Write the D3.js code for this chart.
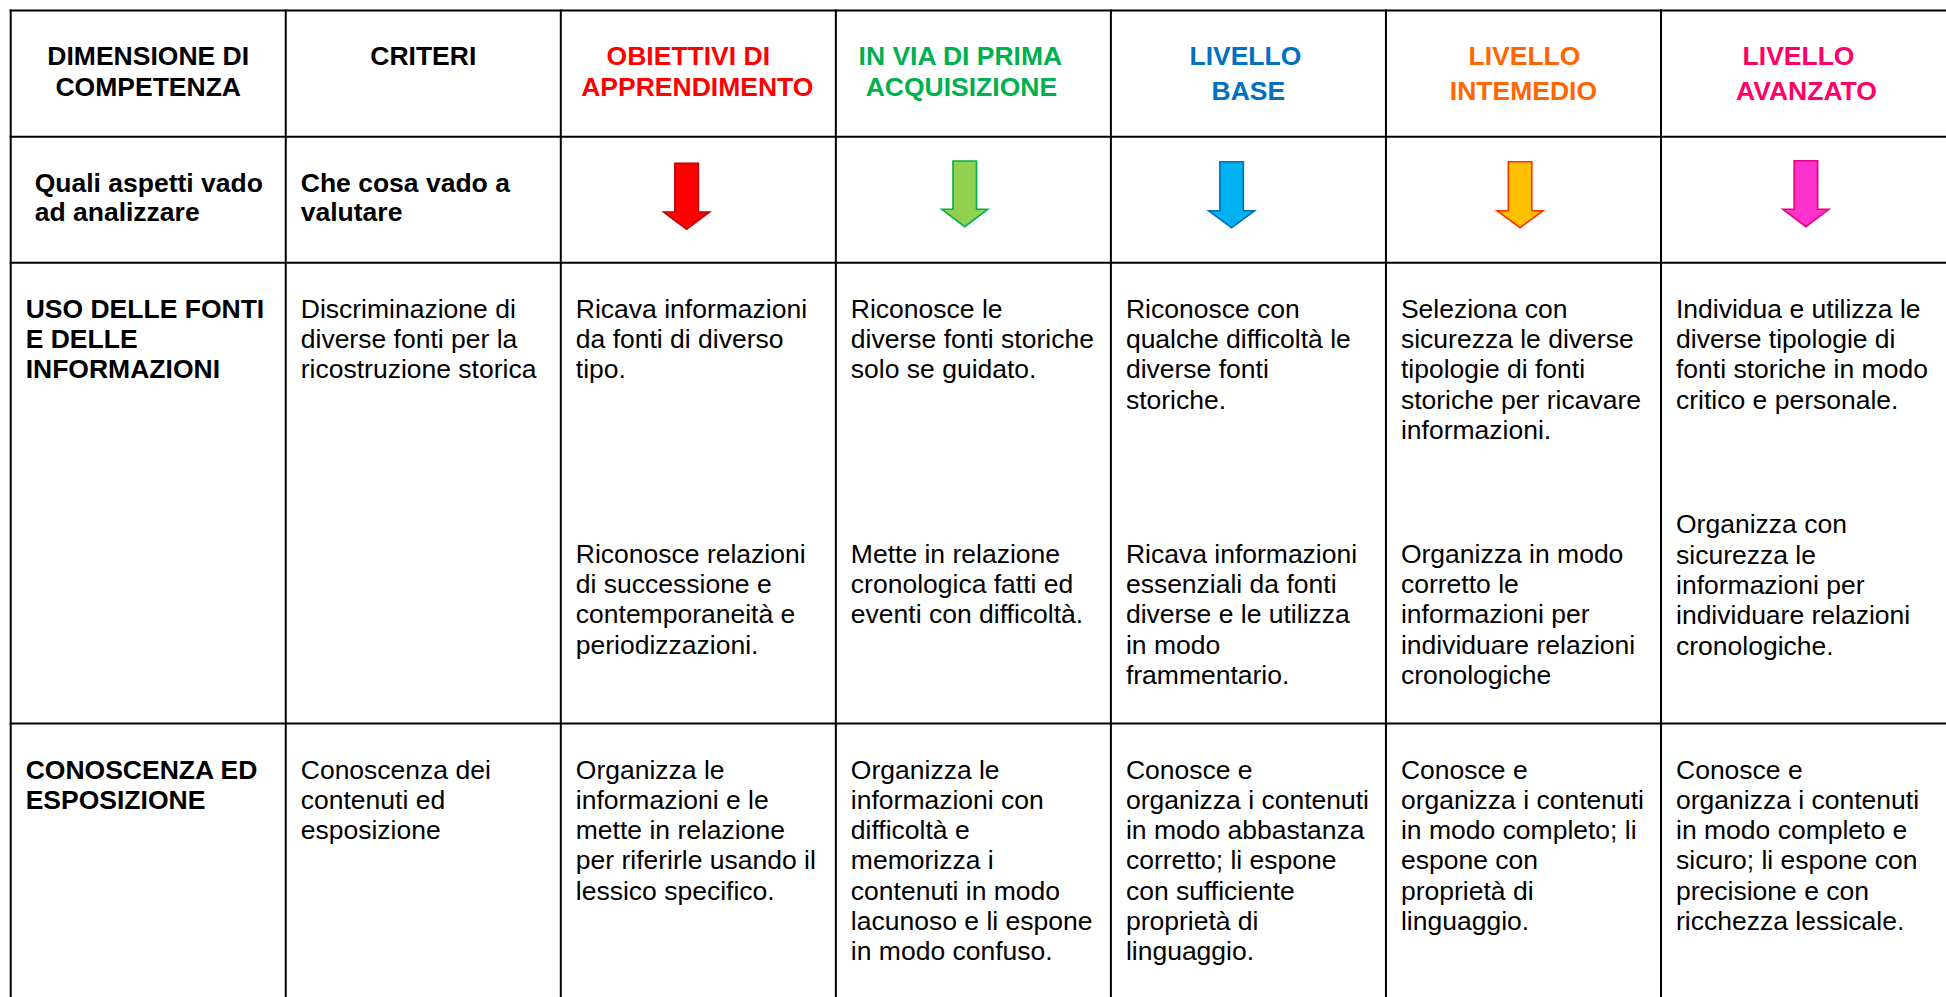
<!DOCTYPE html>
<html>
<head>
<meta charset="utf-8">
<script src="https://cdn.jsdelivr.net/npm/d3@7"></script>
<style>
  html, body { margin: 0; padding: 0; background: #fff; }
  svg { display: block; }
</style>
</head>
<body>
<svg id="chart" width="1946" height="997"></svg>
<script>
// ---------------- DATA ----------------
const headerTitles = [
  ["DIMENSIONE DI", "COMPETENZA"],
  ["CRITERI"],
  ["OBIETTIVI DI", "APPRENDIMENTO"],
  ["IN VIA DI PRIMA", "ACQUISIZIONE"],
  ["LIVELLO", "BASE"],
  ["LIVELLO", "INTEMEDIO"],
  ["LIVELLO", "AVANZATO"]
];
const subHeaders = [
  ["Quali aspetti vado", "ad analizzare"],
  ["Che cosa vado a", "valutare"]
];
const levelColumns = [2, 3, 4, 5, 6]; // columns that carry an arrow
const dimensions = [
  ["USO DELLE FONTI", "E DELLE", "INFORMAZIONI"],
  ["CONOSCENZA ED", "ESPOSIZIONE"]
];
const criteria = [
  ["Discriminazione di", "diverse fonti per la", "ricostruzione storica"],
  ["Conoscenza dei", "contenuti ed", "esposizione"]
];
// Row "USO DELLE FONTI": two descriptor blocks per level column
const fontiBlockA = [
  ["Ricava informazioni", "da fonti di diverso", "tipo."],
  ["Riconosce le", "diverse fonti storiche", "solo se guidato."],
  ["Riconosce con", "qualche difficoltà le", "diverse fonti", "storiche."],
  ["Seleziona con", "sicurezza le diverse", "tipologie di fonti", "storiche per ricavare", "informazioni."],
  ["Individua e utilizza le", "diverse tipologie di", "fonti storiche in modo", "critico e personale."]
];
const fontiBlockB = [
  ["Riconosce relazioni", "di successione e", "contemporaneità e", "periodizzazioni."],
  ["Mette in relazione", "cronologica fatti ed", "eventi con difficoltà."],
  ["Ricava informazioni", "essenziali da fonti", "diverse e le utilizza", "in modo", "frammentario."],
  ["Organizza in modo", "corretto le", "informazioni per", "individuare relazioni", "cronologiche"],
  ["Organizza con", "sicurezza le", "informazioni per", "individuare relazioni", "cronologiche."]
];
// Row "CONOSCENZA ED ESPOSIZIONE"
const conoscenzaBlock = [
  ["Organizza le", "informazioni e le", "mette in relazione", "per riferirle usando il", "lessico specifico."],
  ["Organizza le", "informazioni con", "difficoltà e", "memorizza i", "contenuti in modo", "lacunoso e li espone", "in modo confuso."],
  ["Conosce e", "organizza i contenuti", "in modo abbastanza", "corretto; li espone", "con sufficiente", "proprietà di", "linguaggio."],
  ["Conosce e", "organizza i contenuti", "in modo completo; li", "espone con", "proprietà di", "linguaggio."],
  ["Conosce e", "organizza i contenuti", "in modo completo e", "sicuro; li espone con", "precisione e con", "ricchezza lessicale."]
];

// ---------------- STYLE / LAYOUT ----------------
const headerColors = ["#000000", "#000000", "#FF0000", "#00B050", "#0070C0", "#FF6600", "#FF0066"];
const arrowFill   = ["#FF0000", "#92D050", "#00B0F0", "#FFC000", "#FF33CC"];
const arrowStroke = ["#C00000", "#00B050", "#0070C0", "#FF3300", "#E6007E"];
const arrowCx     = [125.8, 128.9, 120.7, 134.1, 144.9];   // offset inside the cell
const arrowTop    = [163.3, 161.0, 161.7, 161.7, 160.7];
const arrowNeck   = [212.0, 209.3, 210.7, 210.7, 209.3];
const arrowTip    = [229.3, 226.7, 227.7, 227.7, 226.7];
const headerDx    = [[0, 0], [0], [-10, -1], [-13, -12], [-3, 0], [1, 0], [0, 8]];
const headerBase  = [[65, 96], [65], [65, 96], [65, 96], [65, 100], [65, 100], [65, 100]];
const blockBStart = [562.7, 562.7, 562.7, 562.7, 533.3];

const W = 1946, H = 997;
const FONT = "'Liberation Sans', Arial, Helvetica, sans-serif";
const FS = 26.5, LH = 30.3;
const PAD = 15;

const svg = d3.select("#chart");
svg.append("rect").attr("width", W).attr("height", H).attr("fill", "#fff");

const col = d3.scaleLinear().domain([0, 1]).range([10.7, 10.7 + 275.05]);
const rowLines = [10.5, 136.7, 262.7, 723.5];
const colLines = d3.range(0, 7).map(i => col(i));
const colCenter = i => (col(i) + col(i + 1)) / 2;

// ---- grid ----
const grid = svg.append("g").attr("stroke", "#000").attr("stroke-width", 2);
grid.selectAll("line.h").data(rowLines).join("line")
  .attr("class", "h").attr("x1", col(0) - 1).attr("x2", W).attr("y1", d => d).attr("y2", d => d);
grid.selectAll("line.v").data(colLines).join("line")
  .attr("class", "v").attr("x1", d => d).attr("x2", d => d).attr("y1", rowLines[0] - 1).attr("y2", H);

// ---- helper to write a block of lines ----
function writeLines(lines, x, y0, lh, opts) {
  const g = svg.append("g")
    .attr("font-family", FONT)
    .attr("font-size", FS)
    .attr("font-weight", opts.bold ? "bold" : "normal")
    .attr("fill", opts.color || "#000")
    .attr("text-anchor", opts.anchor || "start");
  g.selectAll("text").data(lines).join("text")
    .attr("x", (d, i) => x + (opts.dx ? opts.dx[i] || 0 : 0))
    .attr("y", (d, i) => (opts.bases ? opts.bases[i] : y0 + i * lh))
    .text(d => d);
}

// ---- header row ----
headerTitles.forEach((lines, i) => {
  writeLines(lines, colCenter(i), 0, 0, {
    bold: true, anchor: "middle", color: headerColors[i],
    dx: headerDx[i], bases: headerBase[i]
  });
});

// ---- sub header row ----
writeLines(subHeaders[0], col(0) + 24, 191.7, 29.4, { bold: true });
writeLines(subHeaders[1], col(1) + PAD, 191.7, 29.4, { bold: true });

// ---- arrows ----
const ag = svg.append("g");
ag.selectAll("path").data(levelColumns).join("path")
  .attr("d", (c, k) => {
    const cx = col(c) + arrowCx[k], sw = 23.5 / 2, hw = 46 / 2;
    const t = arrowTop[k], n = arrowNeck[k], p = arrowTip[k];
    return `M${cx - sw},${t}L${cx + sw},${t}L${cx + sw},${n}L${cx + hw},${n}L${cx},${p}L${cx - hw},${n}L${cx - sw},${n}Z`;
  })
  .attr("fill", (c, k) => arrowFill[k])
  .attr("stroke", (c, k) => arrowStroke[k])
  .attr("stroke-width", 1.6)
  .attr("stroke-linejoin", "miter");

// ---- body rows ----
const rowTop = [rowLines[2], rowLines[3]];
const firstBase = r => rowTop[r] + 55;

dimensions.forEach((lines, r) => writeLines(lines, col(0) + PAD, firstBase(r), LH, { bold: true }));
criteria.forEach((lines, r) => writeLines(lines, col(1) + PAD, firstBase(r), LH, {}));

levelColumns.forEach((c, k) => {
  writeLines(fontiBlockA[k], col(c) + PAD, firstBase(0), LH, {});
  writeLines(fontiBlockB[k], col(c) + PAD, blockBStart[k], LH, {});
  writeLines(conoscenzaBlock[k], col(c) + PAD, firstBase(1), LH, {});
});
</script>
</body>
</html>
